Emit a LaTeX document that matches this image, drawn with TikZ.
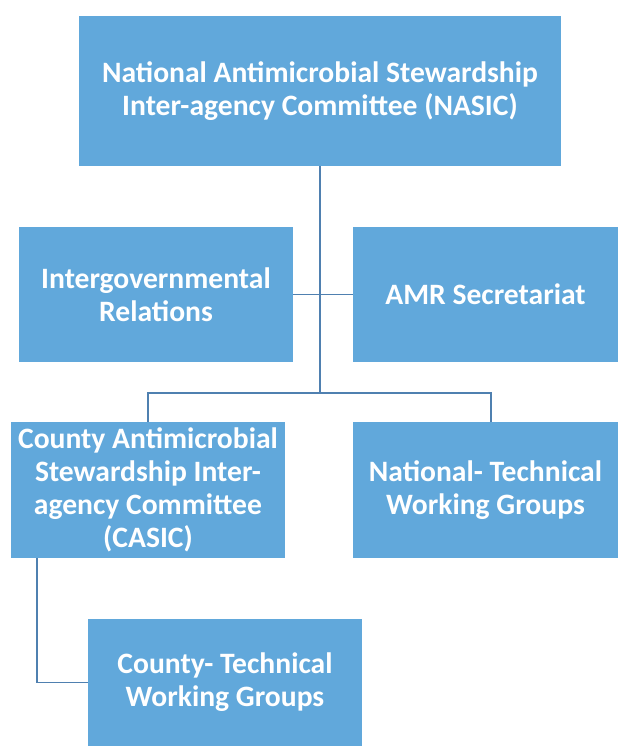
\documentclass[tikz,border=0pt]{standalone}
\usepackage{fontspec}
\setmainfont{Carlito}
\definecolor{boxblue}{HTML}{61A8DB}
\definecolor{lineblue}{HTML}{4F80B0}

\begin{document}
\begin{tikzpicture}[
    x=0.75pt, y=-0.75pt,
    unit/.style={rectangle, fill=boxblue, text=white, inner sep=0pt,
        align=center, font=\bfseries\fontsize{22.2}{24.6}\selectfont},
    wide/.style={unit, minimum width=361.5pt, minimum height=112.5pt},
    side/.style={unit, minimum width=205.5pt, minimum height=101.25pt},
    edge/.style={unit, minimum width=198.75pt, minimum height=101.25pt},
    link/.style={draw=lineblue, line width=1.1pt}
]
\useasboundingbox (0,0) rectangle (618,746);

\node (NASIC) [wide] at (320,91) {National Antimicrobial Stewardship\\Inter-agency Committee (NASIC)};
\node (Intergov) [side] at (156,294.5) {Intergovernmental\\Relations};
\node (Secretariat) [edge] at (485.5,294.5) {AMR Secretariat};
\node (CASIC) [side, minimum height=102pt] at (148,490) {County Antimicrobial\\Stewardship Inter-\\agency Committee\\(CASIC)};
\node (NationalTWG) [edge, minimum height=102pt] at (485.5,490) {National- Technical\\Working Groups};
\node (CountyTWG) [side, minimum height=95.25pt] at (225,682.5) {County- Technical\\Working Groups};

\coordinate (Split) at (320,393);
\coordinate (Drop) at (491,393);
\coordinate (Elbow) at (37,686);

\draw[link] (NASIC.south) -- (Split);
\draw[link] (Intergov.east) -- (Secretariat.west);
\draw[link] (CASIC.north) |- (Split) -- (Drop) -- (Drop |- NationalTWG.north);
\draw[link] (CASIC.south -| Elbow) |- (CountyTWG.west);

\end{tikzpicture}
\end{document}
